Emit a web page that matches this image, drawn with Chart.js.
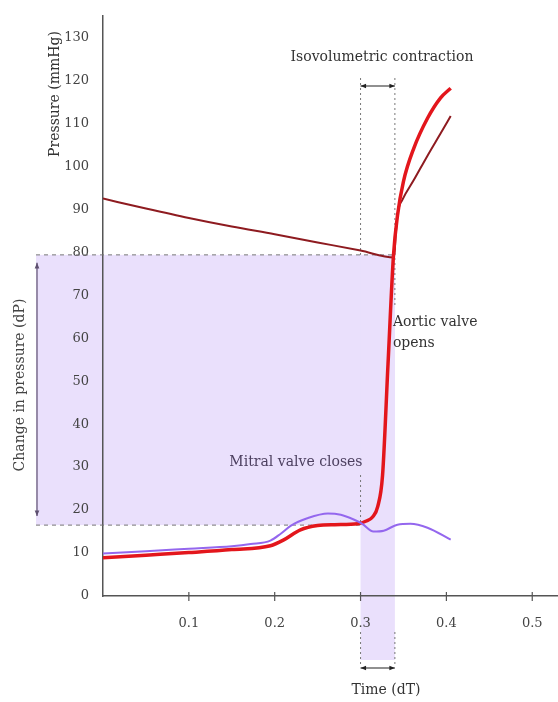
<!DOCTYPE html>
<html>
<head>
<meta charset="utf-8">
<script src="https://cdn.jsdelivr.net/npm/chart.js@4/dist/chart.umd.min.js"></script>
<style>
  html, body { margin: 0; padding: 0; background: #fff; }
  #wrap { width: 558px; height: 702px; }
</style>
</head>
<body>
<div id="wrap"><canvas id="chart" width="558" height="702"></canvas></div>
<script>
// atrial pressure (purple)
const atrialTime = [0, 0.05, 0.1, 0.15, 0.172, 0.195, 0.207, 0.219, 0.238, 0.262, 0.277, 0.292, 0.302, 0.315, 0.327, 0.343, 0.358, 0.378, 0.405]
const atrialPressure = [9.9, 10.4, 11.0, 11.6, 12.1, 12.9, 14.5, 16.4, 18.1, 19.2, 18.9, 17.8, 16.8, 15.0, 15.2, 16.6, 16.8, 15.9, 13.1]

// ventricular pressure (bright red)
const ventTime = [0, 0.05, 0.1, 0.15, 0.195, 0.21, 0.23, 0.25, 0.27, 0.297, 0.306, 0.314, 0.32, 0.3256, 0.332, 0.3384, 0.343, 0.35, 0.362, 0.378, 0.393, 0.405]
const ventPressure = [8.9, 9.5, 10.1, 10.8, 11.7, 13.0, 15.4, 16.4, 16.6, 16.8, 17.4, 18.4, 20.8, 28, 54, 79.4, 88.5, 96.5, 104.2, 111.2, 115.9, 118.2]

// aortic pressure (dark red)
const aorticTime = [0, 0.05, 0.1, 0.15, 0.2, 0.25, 0.3, 0.339, 0.341, 0.3435, 0.349, 0.362, 0.378, 0.393, 0.405]
const aorticPressure = [92.5, 90.2, 88.0, 86.0, 84.2, 82.3, 80.4, 78.8, 84.2, 89.3, 92.3, 96.8, 102.5, 107.6, 111.7]

const xTicks = [0.1, 0.2, 0.3, 0.4, 0.5]
const yTicks = [0, 10, 20, 30, 40, 50, 60, 70, 80, 90, 100, 110, 120, 130]

// markers
const dpTop = 79.4, dpBottom = 16.5
const tStart = 0.3, tEnd = 0.34

const toPoints = (xs, ys) => xs.map((x, i) => ({x, y: ys[i]}))

const SERIF = '"DejaVu Serif", "Liberation Serif", serif'
const SHADE = 'rgb(234, 224, 252)'

const arrow = (ctx, x1, y1, x2, y2) => {
    ctx.beginPath(); ctx.moveTo(x1, y1); ctx.lineTo(x2, y2); ctx.stroke()
    const head = (xa, ya, xb, yb) => {
        const a = Math.atan2(yb - ya, xb - xa)
        ctx.beginPath()
        ctx.moveTo(xb, yb)
        ctx.lineTo(xb - 6 * Math.cos(a - 0.4), yb - 6 * Math.sin(a - 0.4))
        ctx.lineTo(xb - 6 * Math.cos(a + 0.4), yb - 6 * Math.sin(a + 0.4))
        ctx.closePath(); ctx.fill()
    }
    head(x1, y1, x2, y2); head(x2, y2, x1, y1)
}

const dashed = (ctx, x1, y1, x2, y2, dash) => {
    ctx.save()
    ctx.setLineDash(dash)
    ctx.beginPath(); ctx.moveTo(x1, y1); ctx.lineTo(x2, y2); ctx.stroke()
    ctx.restore()
}

const annotate = {
    id: 'annotate',
    beforeDraw(chart) {
        const {ctx, scales: {x, y}} = chart
        const top = y.getPixelForValue(dpTop), bot = y.getPixelForValue(dpBottom)
        const x0 = x.getPixelForValue(tStart), x1 = x.getPixelForValue(tEnd)
        ctx.save()
        ctx.fillStyle = SHADE
        ctx.fillRect(36, top, x1 - 36, bot - top)
        ctx.fillRect(x0, top, x1 - x0, 660 - top)
        ctx.restore()
    },
    beforeDatasetsDraw(chart) {
        const {ctx, scales: {x, y}} = chart
        const top = y.getPixelForValue(dpTop), bot = y.getPixelForValue(dpBottom)
        const x0 = x.getPixelForValue(tStart), x1 = x.getPixelForValue(tEnd)
        ctx.save()
        ctx.strokeStyle = '#777'
        ctx.lineWidth = 1
        dashed(ctx, 36, top, x1, top, [4, 4])
        dashed(ctx, 36, bot, x0, bot, [4, 4])
        // isovolumetric guides
        dashed(ctx, x0, 78, x0, top, [2, 3])
        dashed(ctx, x1, 78, x1, 305, [2, 3])
        // mitral valve closes
        dashed(ctx, x0, 475, x0, bot, [2, 3])
        // time guides below axis
        dashed(ctx, x0, 632, x0, 665, [2, 3])
        dashed(ctx, x1, 632, x1, 665, [2, 3])
        ctx.restore()
    },
    afterDraw(chart) {
        const {ctx, scales: {x, y}} = chart
        const top = y.getPixelForValue(dpTop), bot = y.getPixelForValue(dpBottom)
        const x0 = x.getPixelForValue(tStart), x1 = x.getPixelForValue(tEnd)
        ctx.save()
        // x tick marks crossing the axis
        ctx.strokeStyle = '#555'
        ctx.lineWidth = 1.2
        xTicks.forEach(v => {
            const px = x.getPixelForValue(v)
            ctx.beginPath(); ctx.moveTo(px, y.bottom - 4); ctx.lineTo(px, y.bottom + 5); ctx.stroke()
        })
        // arrows
        ctx.strokeStyle = '#222'; ctx.fillStyle = '#222'; ctx.lineWidth = 1.2
        arrow(ctx, x0, 86, x1, 86)
        arrow(ctx, x0, 668, x1, 668)
        ctx.strokeStyle = '#5e5070'; ctx.fillStyle = '#5e5070'
        arrow(ctx, 37, top + 8, 37, bot - 9)

        ctx.font = '14px ' + SERIF
        ctx.fillStyle = '#333'
        ctx.textBaseline = 'middle'
        ctx.textAlign = 'center'
        ctx.fillText('Isovolumetric contraction', 382, 57)
        ctx.fillText('Time (dT)', 386, 690)
        ctx.textAlign = 'left'
        ctx.fillText('Aortic valve', x1 - 2, 322)
        ctx.fillText('opens', x1 - 2, 343)
        ctx.fillStyle = '#4d4060'
        ctx.textAlign = 'right'
        ctx.fillText('Mitral valve closes', x0 + 2, 462)

        ctx.textAlign = 'center'
        ctx.fillStyle = '#333'
        ctx.save(); ctx.translate(55, 94); ctx.rotate(-Math.PI / 2)
        ctx.fillText('Pressure (mmHg)', 0, 0); ctx.restore()
        ctx.fillStyle = '#444'
        ctx.save(); ctx.translate(20, 385); ctx.rotate(-Math.PI / 2)
        ctx.fillText('Change in pressure (dP)', 0, 0); ctx.restore()
        ctx.restore()
    }
}

new Chart(document.getElementById('chart'), {
    type: 'line',
    data: {
        datasets: [
            {
                label: 'Atrial',
                data: toPoints(atrialTime, atrialPressure),
                borderColor: '#9467ee',
                borderWidth: 2,
                pointRadius: 0,
                cubicInterpolationMode: 'monotone'
            },
            {
                label: 'Ventricle',
                data: toPoints(ventTime, ventPressure),
                borderColor: '#e3161c',
                borderWidth: 3.5,
                pointRadius: 0,
                cubicInterpolationMode: 'monotone'
            },
            {
                label: 'Aorta',
                data: toPoints(aorticTime, aorticPressure),
                borderColor: '#8e1b20',
                borderWidth: 2,
                pointRadius: 0,
                cubicInterpolationMode: 'monotone'
            }
        ]
    },
    options: {
        responsive: false,
        animation: false,
        layout: { padding: { top: 16, right: 0, left: 0, bottom: 0 } },
        scales: {
            x: {
                type: 'linear',
                min: 0,
                max: 0.53,
                afterBuildTicks: s => { s.ticks = xTicks.map(v => ({value: v})) },
                afterFit: s => { s.height = 106 },
                grid: { display: false },
                border: { color: '#555', width: 1.5 },
                ticks: { font: { family: SERIF, size: 13 }, color: '#444', padding: 12, callback: v => v.toString() }
            },
            y: {
                min: 0,
                max: 135,
                afterBuildTicks: s => { s.ticks = yTicks.map(v => ({value: v})) },
                afterFit: s => { s.width = 103 },
                grid: { display: false },
                border: { color: '#555', width: 1.5 },
                ticks: { font: { family: SERIF, size: 13 }, color: '#444', padding: 6 }
            }
        },
        plugins: {
            legend: { display: false },
            tooltip: { enabled: false }
        }
    },
    plugins: [annotate]
})
</script>
</body>
</html>
